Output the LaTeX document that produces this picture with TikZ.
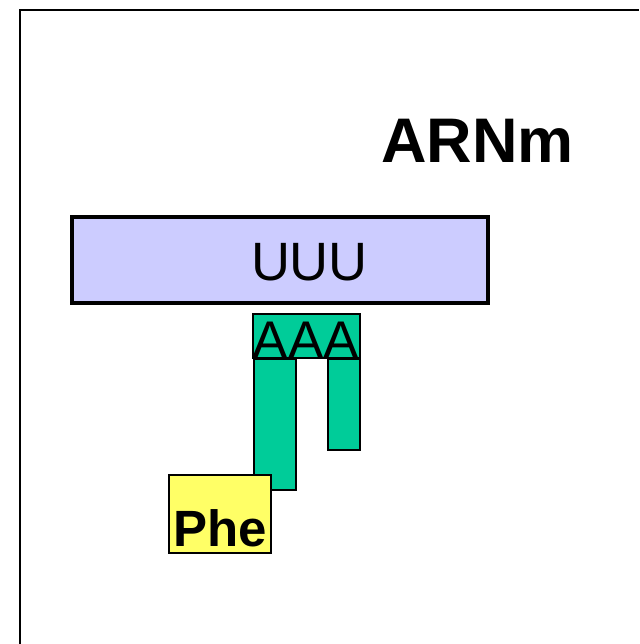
\documentclass[tikz,border=0pt]{standalone}
\usepackage{fontspec}
\setmainfont{Liberation Sans}
\definecolor{lav}{HTML}{CCCCFF}
\definecolor{grn}{HTML}{00CC99}
\definecolor{yel}{HTML}{FFFF66}
\begin{document}
\begin{tikzpicture}[x=1pt,y=-1pt,
  box/.style={draw=black,line width=2pt},
  lbl/.style={inner sep=0pt,anchor=base}]
\useasboundingbox[fill=white] (0,0) rectangle (639,644);
% frame
\coordinate (fbl) at (20,644);
\coordinate (ftl) at (20,10);
\coordinate (ftr) at (639,10);
\draw[line width=2pt] (fbl) -- (ftl) -- (ftr);
% title
\node[lbl] (title) at (477.5,163) {\fontsize{63}{63}\selectfont\bfseries ARNm};
% mRNA bar
\draw[box,line width=4pt,fill=lav] (72,217) rectangle (488,303);
\node[lbl] (uuu) at (309.5,280) {\fontsize{54}{54}\selectfont UUU};
% tRNA legs
\draw[box,fill=grn] (254,359) rectangle (296,490);
\draw[box,fill=grn] (328,359) rectangle (360,450);
% anticodon
\draw[box,fill=grn] (253,314) rectangle (360,358);
\node[lbl] (aaa) at (306,358) {\fontsize{53}{53}\selectfont AAA};
% amino acid
\draw[box,fill=yel] (169,475) rectangle (271,553);
\node[lbl] (phe) at (220.5,546) {\fontsize{51}{51}\selectfont\bfseries Phe};
\end{tikzpicture}
\end{document}
